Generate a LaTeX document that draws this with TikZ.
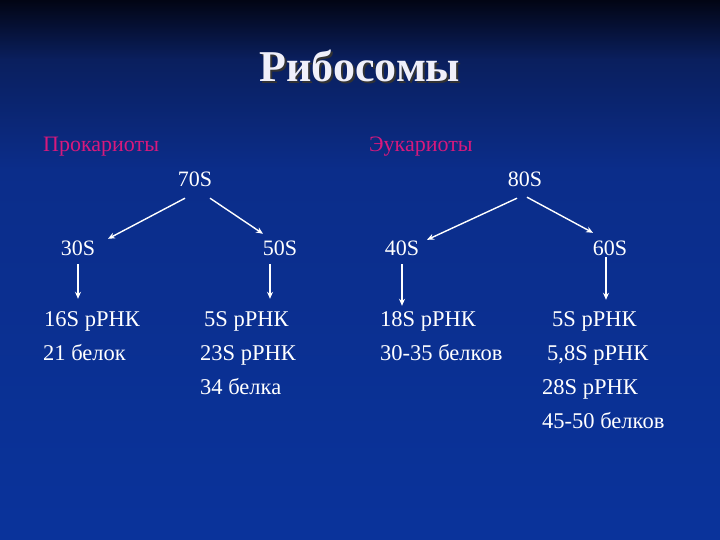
\documentclass[tikz,border=0pt]{standalone}
\usepackage{fontspec}
\setmainfont{Liberation Serif}
\usepackage{tikz}
\usetikzlibrary{calc}
\usetikzlibrary{arrows.meta}
\definecolor{bgtop}{RGB}{2,5,20}
\definecolor{bgmid}{RGB}{10,31,94}
\definecolor{bglow}{RGB}{11,45,138}
\definecolor{bgbot}{RGB}{10,51,155}
\definecolor{pinkhead}{RGB}{215,25,125}
\definecolor{titlewhite}{RGB}{240,240,250}

\begin{document}
\begin{tikzpicture}[x=1pt,y=-1pt]
\tikzstyle{head}=[anchor=base west,inner sep=0pt,text=pinkhead,font=\fontsize{22}{26}\selectfont]
\tikzstyle{size}=[anchor=base,inner sep=0pt,text height=15pt,text depth=0pt,text=white,font=\fontsize{22}{26}\selectfont]
\tikzstyle{line}=[anchor=base west,inner sep=0pt,text height=15pt,text depth=0pt,text=white,font=\fontsize{22.5}{26}\selectfont]
\tikzstyle{arr}=[white,line width=1.4pt,-{Stealth[length=7pt,width=6pt]}]
% background
\useasboundingbox (0,0) rectangle (720,540);
\shade[top color=bgtop,bottom color=bgmid] (0,0) rectangle (720,60);
\shade[top color=bgmid,bottom color=bglow] (0,60) rectangle (720,170);
\shade[top color=bglow,bottom color=bgbot] (0,170) rectangle (720,540);
% title with its shadow
\node[anchor=base,text=titlewhite,font=\fontsize{44}{50}\selectfont\bfseries] at (360,82) (title)
  {\makebox[0pt][l]{\hspace{2pt}\raisebox{-2pt}{\color{black!80}Рибосомы}}Рибосомы};
% groups
\node[head] at (43,152) (pro) {Прокариоты};
\node[head] at (369,152) (euk) {Эукариоты};
\node[size] at (195,187) (n70) {70S};
\node[size] at (525,187) (n80) {80S};
\node[size] at (78,255) (n30) {30S};
\node[size] at (280,255) (n50) {50S};
\node[size] at (402,255) (n40) {40S};
\node[size] at (610,255) (n60) {60S};
% contents
\node[line] at (44,326) (r16) {16S рРНК};
\node[line] at (43,360) (b21) {21 белок};
\node[line] at (204,326) (r5a) {5S рРНК};
\node[line] at (200,360) (r23) {23S рРНК};
\node[line] at (200,394) (b34) {34 белка};
\node[line] at (380,326) (r18) {18S рРНК};
\node[line] at (380,360) (b30) {30-35 белков};
\node[line] at (552,326) (r5b) {5S рРНК};
\node[line] at (547,360) (r58) {5,8S рРНК};
\node[line] at (542,394) (r28) {28S рРНК};
\node[line] at (542,428) (b45) {45-50 белков};
% arrows
\draw[arr] ([xshift=-10pt,yshift=-11pt]n70.south) -- ([xshift=30pt,yshift=1pt]n30.north);
\draw[arr] ([xshift=15pt,yshift=-11pt]n70.south) -- ([xshift=-17pt,yshift=6pt]n50.north);
\draw[arr] ([xshift=-8pt,yshift=-11pt]n80.south) -- ([xshift=25pt]n40.north);
\draw[arr] ([xshift=2pt,yshift=-10pt]n80.south) -- ([xshift=-17pt,yshift=7pt]n60.north);
\draw[arr] ([yshift=-9pt]n30.south) -- ([yshift=12pt]n30.south |- r16.north);
\draw[arr] ([xshift=-10pt,yshift=-9pt]n50.south) -- ([xshift=-10pt,yshift=12pt]n50.south |- r5a.north);
\draw[arr] ([yshift=-9pt]n40.south) -- ([yshift=5pt]n40.south |- r18.north);
\draw[arr] ([xshift=-4pt,yshift=-2pt]n60.south) -- ([xshift=-4pt,yshift=11pt]n60.south |- r5b.north);
\end{tikzpicture}
\end{document}
